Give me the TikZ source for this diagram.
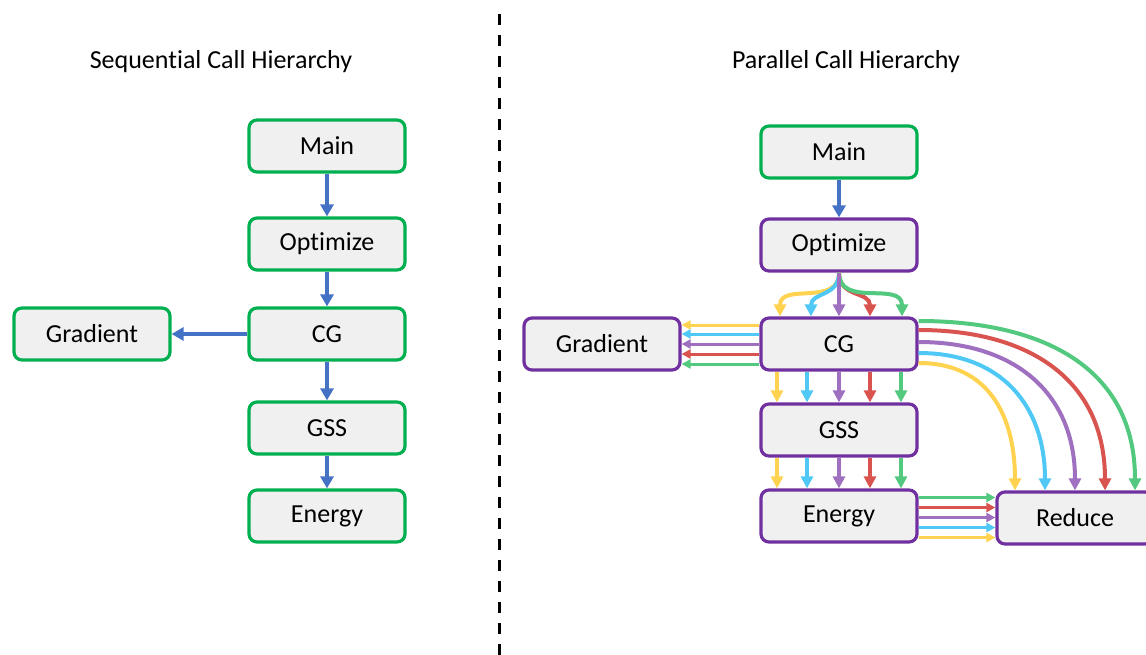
\documentclass[tikz,border=0pt]{standalone}
\usepackage{fontspec}
\setmainfont{Carlito}[Ligatures=NoCommon]
\usetikzlibrary{arrows.meta,calc}

\definecolor{boxgreen}{HTML}{00B050}
\definecolor{boxpurple}{HTML}{7030A0}
\definecolor{boxfill}{HTML}{F0F0F0}
\definecolor{callblue}{HTML}{4472C4}
\definecolor{cyellow}{HTML}{FFD24F}
\definecolor{ccyan}{HTML}{4FC8F5}
\definecolor{cviolet}{HTML}{A070C0}
\definecolor{cred}{HTML}{D9534F}
\definecolor{cgreen}{HTML}{52C97E}

\tikzset{
  fn/.style={draw, line width=3.2pt, rounded corners=8pt, fill=boxfill,
    minimum width=156pt, minimum height=52pt, inner sep=0pt,
    font=\fontsize{26}{30}\selectfont},
  seqbox/.style={fn, draw=boxgreen},
  parbox/.style={fn, draw=boxpurple},
  title/.style={font=\fontsize{26}{30}\selectfont},
  seqcall/.style={line width=4pt, callblue, -{Triangle[width=13pt,length=12pt]}},
  thread/.style={line width=4pt, -{Triangle[width=12pt,length=12pt]}},
  thin thread/.style={line width=3pt, -{Triangle[width=9pt,length=9pt]}},
}

\begin{document}
\begin{tikzpicture}[x=1pt,y=-1pt]
\useasboundingbox (0,0) rectangle (1146,655);

% separator between the two hierarchies
\draw[line width=3pt, dash pattern=on 11pt off 10pt] (499,14) -- (499,655);

% ---------- sequential hierarchy ----------
\node[title] (seqtitle) at (221,62) {Sequential Call Hierarchy};
\node[seqbox] (smain) at (327,146) {Main};
\node[seqbox] (sopt)  at (327,244) {Optimize};
\node[seqbox] (scg)   at (327,334) {CG};
\node[seqbox] (sgrad) at (92,334)  {Gradient};
\node[seqbox] (sgss)  at (327,428) {GSS};
\node[seqbox] (sen)   at (327,516) {Energy};

\draw[seqcall] (smain) -- (sopt);
\draw[seqcall] (sopt) -- (scg);
\draw[seqcall] (scg) -- (sgrad);
\draw[seqcall] (scg) -- (sgss);
\draw[seqcall] (sgss) -- (sen);

% ---------- parallel hierarchy ----------
\node[title] (partitle) at (846,62) {Parallel Call Hierarchy};
\node[parbox, draw=boxgreen] (pmain) at (839,152) {Main};
\node[parbox] (popt) at (839,245) {Optimize};
\node[parbox] (pcg)  at (839,344) {CG};
\node[parbox] (pgrad) at (602,344) {Gradient};
\node[parbox] (pgss) at (839,430) {GSS};
\node[parbox] (pen)  at (839,516) {Energy};
\node[parbox] (pred) at (1075,518) {Reduce};

\draw[seqcall] (pmain) -- (popt);

% Optimize forks into five threads entering CG
\foreach \dx/\col in {-59/cyellow, -28/ccyan, 31/cred, 63/cgreen}{
  \draw[thread, \col] (popt.south) to[out=-90,in=90,looseness=1.2] ([xshift=\dx pt]pcg.north);
}
\draw[thread, cviolet] (popt.south) -- (pcg.north);

% CG -> Gradient, one call per thread
\foreach \dy/\col [count=\i] in {19/cyellow, 10/ccyan, 0/cviolet, -10/cred, -20/cgreen}{
  \coordinate (g\i) at ([yshift=\dy pt]pcg.west);
  \draw[thin thread, \col] (g\i) -- (g\i -| pgrad.east);
}

% CG -> GSS -> Energy, one call per thread
\foreach \dx/\col [count=\i] in {-62/cyellow, -32/ccyan, 0/cviolet, 31/cred, 62/cgreen}{
  \coordinate (s\i) at ([xshift=\dx pt]pcg.south);
  \draw[thread, \col] (s\i) -- (s\i |- pgss.north);
  \coordinate (t\i) at ([xshift=\dx pt]pgss.south);
  \draw[thread, \col] (t\i) -- (t\i |- pen.north);
}

% CG -> Reduce, arcing over GSS and Energy
\foreach \dy/\dx/\col in {-19/-60/cyellow, -9/-30/ccyan, 2/0/cviolet, 14/30/cred, 23/60/cgreen}{
  \draw[thread, \col] ([yshift=\dy pt]pcg.east) to[out=0,in=90,looseness=1.15]
    ([xshift=\dx pt]pred.north);
}

% Energy -> Reduce, one call per thread
\foreach \dy/\col [count=\i] in {18.5/cgreen, 8.5/cred, -1.5/cviolet, -11.5/ccyan, -21.5/cyellow}{
  \coordinate (r\i) at ([yshift=\dy pt]pen.east);
  \draw[thin thread, \col] (r\i) -- (r\i -| pred.west);
}
\end{tikzpicture}
\end{document}
